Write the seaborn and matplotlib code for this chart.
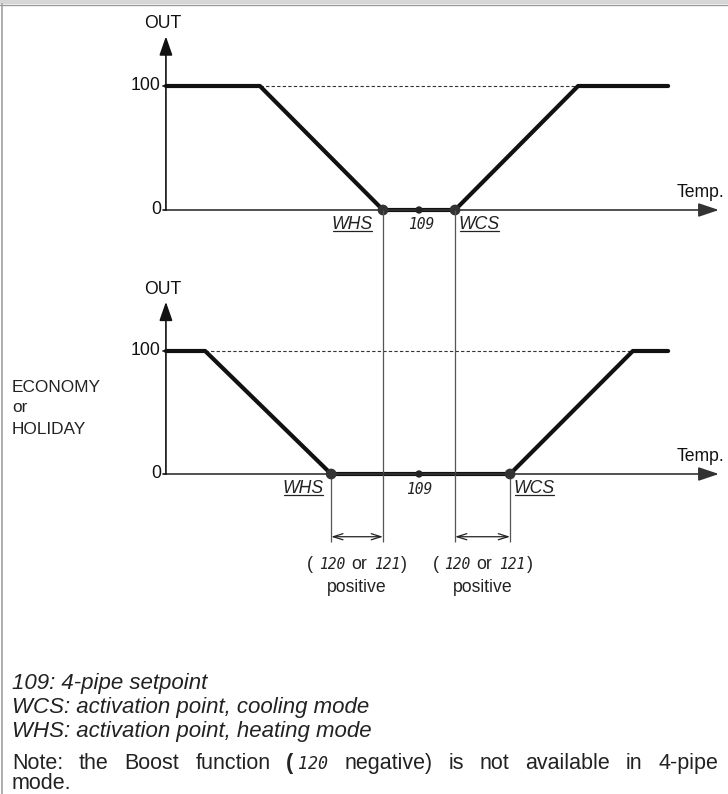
import numpy as np
import pandas as pd
import seaborn as sns
import matplotlib
matplotlib.use("Agg")
import matplotlib.pyplot as plt
from matplotlib.lines import Line2D
from matplotlib.patches import Rectangle
from matplotlib.transforms import IdentityTransform

# ---------------- data ----------------
out_levels = [100, 100, 0, 0, 100, 100]                 # OUT (%) at curve break points
temp_normal = [-7.03, -4.42, -1.00, 1.00, 4.42, 6.92]   # temperature break points, normal mode
temp_eco = [-7.03, -5.94, -2.44, 2.53, 5.94, 6.92]      # temperature break points, ECONOMY/HOLIDAY
setpoint_109 = 0.0
whs_normal, wcs_normal = -1.00, 1.00
whs_eco, wcs_eco = -2.44, 2.53
y_ticks = [0, 100]
y_tick_labels = ["0", "100"]
temp_axis_end = 8.33
out_axis_end = 140

sns.set_theme(style="white")
plt.rcParams["font.family"] = ["Liberation Sans", "DejaVu Sans"]

W, H = 728, 794
fig = plt.figure(figsize=(W / 100, H / 100), dpi=100)
fig.patch.set_facecolor("white")

PX0, PPU = 419, 36.0   # horizontal mapping of the shared temperature scale


def make_ax(zero_px, px_per):
    ax = fig.add_axes([0, 0, 1, 1], facecolor="none")
    ax.set_xlim((0 - PX0) / PPU, (W - PX0) / PPU)
    ax.set_ylim((zero_px - H) / px_per, zero_px / px_per)
    ax.set_axis_off()
    return ax


ax_top = make_ax(210, 1.24)
ax_bot = make_ax(474, 1.23)

LBL = 12.7
SEG = dict(family="DejaVu Sans Mono", style="oblique", fontsize=10.5, color="#222")
renderer = fig.canvas.get_renderer()


def underline(txt, dy=2.0):
    bb = txt.get_window_extent(renderer)
    y = bb.y0 + dy
    fig.add_artist(Line2D([bb.x0 + 1, bb.x1 - 1], [y, y], transform=IdentityTransform(),
                          color="#222", lw=0.9))


def draw_panel(ax, temps, whs, wcs, x_origin):
    # axes arrows
    ax.annotate("", xy=(temp_axis_end, 0), xytext=(x_origin, 0),
                arrowprops=dict(arrowstyle="-|>,head_length=1.25,head_width=0.42",
                                mutation_scale=10, lw=1.2, color="#333",
                                shrinkA=0, shrinkB=0))
    ax.annotate("", xy=(x_origin, out_axis_end), xytext=(x_origin, 0),
                arrowprops=dict(arrowstyle="-|>,head_length=1.15,head_width=0.4",
                                mutation_scale=10, lw=1.2, color="#111",
                                shrinkA=0, shrinkB=0))
    for t, lab in zip(y_ticks, y_tick_labels):
        ax.plot([x_origin - 0.09, x_origin], [t, t], color="#111", lw=1.2)
        ax.text(x_origin - 0.14, t, lab, ha="right", va="center", fontsize=LBL, color="#111")
    ax.text(x_origin - 0.1, out_axis_end + 10, "OUT", ha="center", va="center",
            fontsize=LBL, color="#111")
    xr = ax.transData.inverted().transform((W - 4, 0))[0]
    ax.text(xr, 14, "Temp.", ha="right", va="center", fontsize=LBL, color="#111")
    # dashed 100 % reference
    ax.plot([temps[1], temps[4]], [100, 100], color="#333", lw=0.8, ls=(0, (3, 2)))
    # output curve
    sns.lineplot(x=temps, y=out_levels, ax=ax, color="#111", lw=3.0, sort=False,
                 estimator=None, legend=False)
    sns.scatterplot(x=[whs, wcs], y=[0, 0], ax=ax, s=60, color="#333",
                    edgecolor="none", zorder=6, legend=False)
    sns.scatterplot(x=[setpoint_109], y=[0], ax=ax, s=28, color="#222",
                    edgecolor="none", zorder=6, legend=False)


draw_panel(ax_top, temp_normal, whs_normal, wcs_normal, temp_normal[0])
draw_panel(ax_bot, temp_eco, whs_eco, wcs_eco, temp_eco[0])

# point labels
t = ax_top.text(whs_normal - 0.28, -12, "WHS", ha="right", va="center", style="italic",
                fontsize=LBL, color="#222")
underline(t)
t = ax_top.text(wcs_normal + 0.1, -12, "WCS", ha="left", va="center", style="italic",
                fontsize=LBL, color="#222")
underline(t)
ax_top.text(setpoint_109 + 0.05, -12, "109", ha="center", va="center", **SEG)

t = ax_bot.text(whs_eco - 0.2, -12, "WHS", ha="right", va="center", style="italic",
                fontsize=LBL, color="#222")
underline(t)
t = ax_bot.text(wcs_eco + 0.1, -12, "WCS", ha="left", va="center", style="italic",
                fontsize=LBL, color="#222")
underline(t)
ax_bot.text(setpoint_109, -13, "109", ha="center", va="center", **SEG)

# ECONOMY / HOLIDAY side label
for yy, s in zip([387, 408, 429], ["ECONOMY", "or", "HOLIDAY"]):
    fig.text(12 / W, 1 - yy / H, s, ha="left", va="center", fontsize=LBL * 0.98,
             color="#222")

# guide lines and dimension arrows (in bottom-panel units)
top_zero = ax_bot.transData.inverted().transform(ax_top.transData.transform((0, 0)))[1]
dim_y, dim_low = -51.0, -55.0
ax_bot.vlines([whs_normal, wcs_normal], dim_low, top_zero, color="#555", lw=0.9)
ax_bot.vlines([whs_eco, wcs_eco], dim_low, 0, color="#555", lw=0.9)
for a, b in [(whs_eco, whs_normal), (wcs_normal, wcs_eco)]:
    ax_bot.annotate("", xy=(b, dim_y), xytext=(a, dim_y),
                    arrowprops=dict(arrowstyle="<->,head_length=0.7,head_width=0.22",
                                    mutation_scale=10, lw=0.9, color="#222",
                                    shrinkA=0, shrinkB=0))

NORM = dict(fontsize=LBL, color="#222")


def place_runs(runs, x_disp, y_disp, align="center"):
    items, total = [], 0.0
    for s, kw, gap in runs:
        tt = fig.text(0, 0, s, transform=IdentityTransform(), ha="left", va="baseline", **kw)
        w = tt.get_window_extent(renderer).width
        items.append((tt, w, gap))
        total += w + gap
    x = x_disp - total / 2 if align == "center" else x_disp
    for tt, w, gap in items:
        tt.set_position((x, y_disp))
        x += w + gap


for a, b in [(whs_eco, whs_normal), (wcs_normal, wcs_eco)]:
    xc = ax_bot.transData.transform(((a + b) / 2, 0))[0]
    place_runs([("(", NORM, 6), ("120", SEG, 6), ("or", NORM, 7), ("121", SEG, 1),
                (")", NORM, 0)], xc, H - 569)
    fig.text(xc / W, 1 - 588 / H, "positive", ha="center", va="center", **NORM)

# explanatory text
BODY = 16
for yy, s in zip([684, 708, 732], ["109: 4-pipe setpoint",
                                   "WCS: activation point, cooling mode",
                                   "WHS: activation point, heating mode"]):
    fig.text(12 / W, 1 - yy / H, s, ha="left", va="center", style="italic",
             fontsize=BODY, color="#222")

NOTE = 15.5
note_words = ["Note:", "the", "Boost", "function", None, "negative)", "is", "not",
              "available", "in", "4-pipe"]
BODYKW = dict(fontsize=NOTE, color="#222")
units = []
for wd in note_words:
    if wd is None:
        p1 = fig.text(0, 0, "(", transform=IdentityTransform(), ha="left", va="baseline",
                      fontweight="bold", **BODYKW)
        p2 = fig.text(0, 0, "120", transform=IdentityTransform(), ha="left",
                      va="baseline", family="DejaVu Sans Mono", style="oblique",
                      fontsize=12, color="#222")
        units.append([(p1, 5), (p2, 0)])
    else:
        units.append([(fig.text(0, 0, wd, transform=IdentityTransform(), ha="left",
                                va="baseline", **BODYKW), 0)])
widths = [sum(p.get_window_extent(renderer).width + g for p, g in u) for u in units]
gap = (718 - 12 - sum(widths)) / (len(units) - 1)
x = 12.0
yb = H - 769
for u, w in zip(units, widths):
    xx = x
    for p, g in u:
        p.set_position((xx, yb))
        xx += p.get_window_extent(renderer).width + g
    x += w + gap
fig.text(12, H - 789, "mode.", transform=IdentityTransform(), ha="left", va="baseline",
         **BODYKW)

# page frame
fig.add_artist(Rectangle((0, 1 - 4 / H), 1, 4 / H, transform=fig.transFigure,
                         facecolor="#d6d6d6", edgecolor="none"))
fig.add_artist(Line2D([0, 1], [1 - 4.5 / H, 1 - 4.5 / H], transform=fig.transFigure,
                      color="#9a9a9a", lw=1))
fig.add_artist(Line2D([2 / W, 2 / W], [0, 1 - 4 / H], transform=fig.transFigure,
                      color="#a0a0a0", lw=1.2))

fig.savefig("out.png", dpi=100)
